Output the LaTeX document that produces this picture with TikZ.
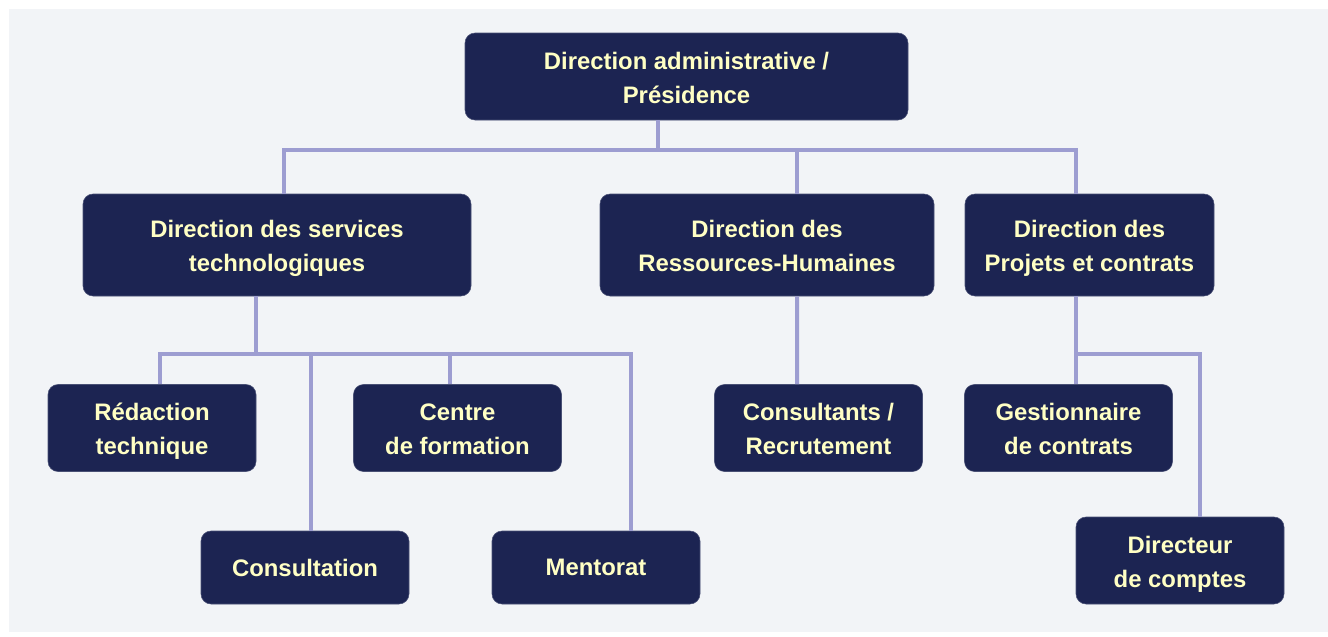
\documentclass[tikz,border=0pt]{standalone}
\usepackage{fontspec}
\setmainfont{Liberation Sans}
\definecolor{navy}{HTML}{1C2452}
\definecolor{pale}{HTML}{FFFFC4}
\definecolor{lilac}{HTML}{9D9DD1}
\definecolor{paper}{HTML}{F2F4F7}
\newcommand{\bs}{\rule[-5.4pt]{0pt}{25.5pt}}
\tikzset{
  box/.style={fill=navy, draw=navy!80!white, rounded corners=7.5pt, text=pale,
    align=center, font=\fontsize{17.9}{25.5}\selectfont\bfseries,
    minimum width=156pt, minimum height=65.25pt, inner sep=0pt},
  link/.style={draw=lilac, line width=3pt}
}
\begin{document}
\begin{tikzpicture}[x=0.75pt,y=-0.75pt]
\useasboundingbox (0,0) rectangle (1328,636);
\fill [paper] (9,9) rectangle (1328,632);

\node [box, minimum width=332.25pt] (pres) at (686.5,76.5) {\bs Direction administrative /\\\bs Présidence};

\node [box, minimum width=291pt, minimum height=76.5pt] (dst) at (277,245) {\bs Direction des services\\\bs technologiques};
\node [box, minimum width=250.5pt, minimum height=76.5pt] (drh) at (767,245) {\bs Direction des\\\bs Ressources-Humaines};
\node [box, minimum width=186.75pt, minimum height=76.5pt] (dpc) at (1089.5,245) {\bs Direction des\\\bs Projets et contrats};

\node [box] (red) at (152,428) {\bs Rédaction\\\bs technique};
\node [box] (cen) at (457.5,428) {\bs Centre\\\bs de formation};
\node [box, minimum height=54.75pt] (cst) at (305,567.5) {Consultation};
\node [box, minimum height=54.75pt] (men) at (596,567.5) {Mentorat};
\node [box] (rec) at (818.5,428) {\bs Consultants /\\\bs Recrutement};
\node [box] (ges) at (1068.5,428) {\bs Gestionnaire\\\bs de contrats};
\node [box] (dir) at (1180,560.5) {\bs Directeur\\\bs de comptes};

% branch points
\coordinate (b0) at (658,150);
\coordinate (b1) at (256,354);
\coordinate (b2) at (1076,354);

\draw [link] (pres.south -| b0) -- (b0) -| ([xshift=5.25pt]dst.north);
\draw [link] (b0) -| ([xshift=22.5pt]drh.north);
\draw [link] (b0) -| ([xshift=-10.1pt]dpc.north);

\draw [link] (dst.south -| b1) -- (b1) -| ([xshift=6pt]red.north);
\draw [link] (b1) -| ([xshift=4.5pt]cst.north);
\draw [link] (b1) -| ([xshift=-5.6pt]cen.north);
\draw [link] (b1) -| ([xshift=26.25pt]men.north);

\draw [link] ([xshift=22.5pt]drh.south) -- ([xshift=-16.1pt]rec.north);

\draw [link] (dpc.south -| b2) -- (ges.north -| b2);
\draw [link] (b2) -| ([xshift=15pt]dir.north);
\end{tikzpicture}
\end{document}
